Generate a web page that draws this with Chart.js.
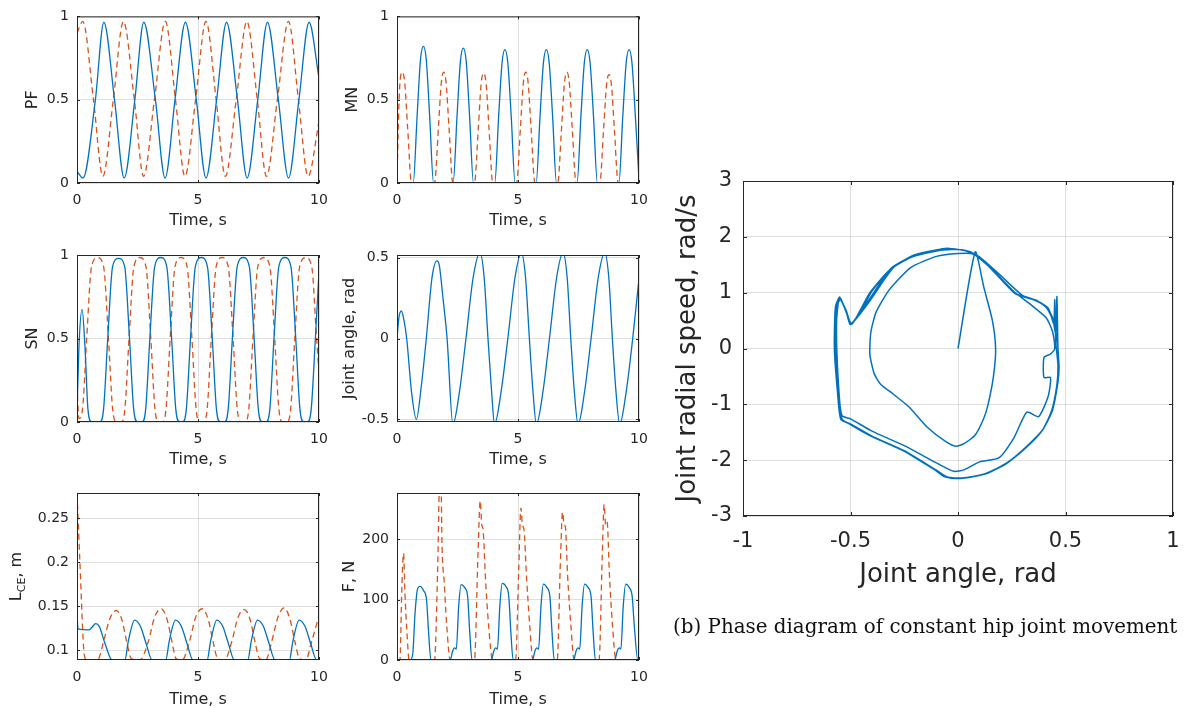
<!DOCTYPE html>
<html>
<head>
<meta charset="utf-8">
<script src="https://cdn.jsdelivr.net/npm/chart.js@4.4.0/dist/chart.umd.min.js"></script>
<style>
  html, body { margin: 0; padding: 0; background: #fff; }
  #wrap { position: relative; width: 1202px; height: 708px; overflow: hidden; background: #fff; }
  #wrap canvas { position: absolute; left: 0; top: 0; }
  #caption { position: absolute; left: 673px; top: 615px; font-family: "DejaVu Serif", serif; font-size: 20px; color: #111; white-space: nowrap; }
</style>
</head>
<body>
<div id="wrap">
  <canvas id="pf" width="1202" height="708"></canvas>
  <canvas id="mn" width="1202" height="708"></canvas>
  <canvas id="sn" width="1202" height="708"></canvas>
  <canvas id="angle" width="1202" height="708"></canvas>
  <canvas id="lce" width="1202" height="708"></canvas>
  <canvas id="force" width="1202" height="708"></canvas>
  <canvas id="phase" width="1202" height="708"></canvas>
  <div id="caption">(b) Phase diagram of constant hip joint movement</div>
</div>
<script>
// tick values and labels
const timeTicks = [0, 5, 10];
const timeTickLabels = ['0', '5', '10'];
const unitTicks = [0, 0.5, 1];
const unitTickLabels = ['0', '0.5', '1'];
const angleTicks = [-0.5, 0, 0.5];
const angleTickLabels = ['-0.5', '0', '0.5'];
const lceTicks = [0.1, 0.15, 0.2, 0.25];
const lceTickLabels = ['0.1', '0.15', '0.2', '0.25'];
const forceTicks = [0, 100, 200];
const forceTickLabels = ['0', '100', '200'];
const phaseAngleTicks = [-1, -0.5, 0, 0.5, 1];
const phaseAngleLabels = ['-1', '-0.5', '0', '0.5', '1'];
const phaseSpeedTicks = [-3, -2, -1, 0, 1, 2, 3];
const phaseSpeedLabels = ['-3', '-2', '-1', '0', '1', '2', '3'];

// PF activity
const pfBlueT = [0, 0.25, 0.76, 1.11, 1.55, 1.95, 2.39, 2.76, 3.24, 3.64, 4.05, 4.48, 4.93, 5.33, 5.77, 6.18, 6.63, 7.03, 7.47, 7.87, 8.32, 8.74, 9.17, 9.59, 10];
const pfBlue = [0.07, 0.03, 0.5, 0.965, 0.5, 0.03, 0.5, 0.965, 0.5, 0.03, 0.5, 0.965, 0.5, 0.03, 0.5, 0.965, 0.5, 0.03, 0.5, 0.965, 0.5, 0.03, 0.5, 0.965, 0.63];
const pfOrangeT = [0, 0.24, 0.68, 1.07, 1.5, 1.92, 2.37, 2.75, 3.2, 3.65, 4.07, 4.46, 4.9, 5.33, 5.75, 6.13, 6.58, 7.02, 7.45, 7.83, 8.28, 8.74, 9.15, 9.55, 10];
const pfOrange = [0.9, 0.97, 0.5, 0.04, 0.5, 0.97, 0.5, 0.04, 0.5, 0.97, 0.5, 0.04, 0.5, 0.97, 0.5, 0.04, 0.5, 0.97, 0.5, 0.04, 0.5, 0.97, 0.5, 0.04, 0.37];

// MN activity
const mnBlueT = [0, 0.67, 0.83, 0.97, 1.09, 1.21, 1.35, 1.51, 2.32, 2.48, 2.62, 2.74, 2.86, 3.0, 3.16, 4.04, 4.2, 4.34, 4.46, 4.58, 4.72, 4.88, 5.75, 5.91, 6.05, 6.17, 6.29, 6.43, 6.59, 7.44, 7.6, 7.74, 7.86, 7.98, 8.12, 8.28, 9.17, 9.33, 9.47, 9.59, 9.71, 9.85, 10];
const mnBlue = [0, 0, 0.4, 0.74, 0.82, 0.74, 0.4, 0, 0, 0.4, 0.73, 0.81, 0.73, 0.4, 0, 0, 0.4, 0.72, 0.8, 0.72, 0.4, 0, 0, 0.4, 0.72, 0.8, 0.72, 0.4, 0, 0, 0.4, 0.72, 0.8, 0.72, 0.4, 0, 0, 0.4, 0.72, 0.8, 0.72, 0.4, 0.02];
const mnOrangeT = [0, 0.1, 0.22, 0.32, 0.44, 0.6, 1.55, 1.71, 1.83, 1.93, 2.03, 2.15, 2.31, 3.2, 3.36, 3.48, 3.58, 3.68, 3.8, 3.96, 4.94, 5.1, 5.22, 5.32, 5.42, 5.54, 5.7, 6.64, 6.8, 6.92, 7.02, 7.12, 7.24, 7.4, 8.38, 8.54, 8.66, 8.76, 8.86, 8.98, 9.14, 10];
const mnOrange = [0.02, 0.55, 0.665, 0.6, 0.33, 0, 0, 0.33, 0.6, 0.665, 0.6, 0.33, 0, 0, 0.33, 0.6, 0.66, 0.6, 0.33, 0, 0, 0.33, 0.6, 0.665, 0.6, 0.33, 0, 0, 0.33, 0.6, 0.665, 0.6, 0.33, 0, 0, 0.33, 0.59, 0.65, 0.59, 0.33, 0, 0];

// SN activity
const snBlueT = [0, 0.08, 0.21, 0.33, 0.45, 0.6, 0.95, 1.1, 1.27, 1.47, 1.72, 1.97, 2.17, 2.34, 2.5, 2.69, 2.84, 3.01, 3.21, 3.46, 3.71, 3.91, 4.08, 4.24, 4.37, 4.52, 4.69, 4.89, 5.14, 5.39, 5.59, 5.76, 5.92, 6.1, 6.25, 6.42, 6.62, 6.87, 7.12, 7.32, 7.49, 7.65, 7.82, 7.97, 8.14, 8.34, 8.59, 8.84, 9.04, 9.21, 9.37, 9.53, 9.68, 9.85, 10];
const snBlue = [0.05, 0.45, 0.675, 0.45, 0.08, 0, 0, 0.08, 0.5, 0.93, 0.98, 0.93, 0.5, 0.08, 0, 0, 0.08, 0.5, 0.93, 0.985, 0.93, 0.5, 0.08, 0, 0, 0.08, 0.5, 0.93, 0.985, 0.93, 0.5, 0.08, 0, 0, 0.08, 0.5, 0.93, 0.985, 0.93, 0.5, 0.08, 0, 0, 0.08, 0.5, 0.93, 0.985, 0.93, 0.5, 0.08, 0, 0, 0.08, 0.5, 0.9];
const snOrangeT = [0, 0.08, 0.23, 0.4, 0.6, 0.85, 1.1, 1.3, 1.47, 1.63, 1.83, 1.98, 2.15, 2.35, 2.6, 2.85, 3.05, 3.22, 3.38, 3.53, 3.68, 3.85, 4.05, 4.3, 4.55, 4.75, 4.92, 5.08, 5.23, 5.38, 5.55, 5.75, 6.0, 6.25, 6.45, 6.62, 6.78, 6.95, 7.1, 7.27, 7.47, 7.72, 7.97, 8.17, 8.34, 8.5, 8.68, 8.83, 9.0, 9.2, 9.45, 9.7, 9.9, 10];
const snOrange = [0.22, 0.02, 0.08, 0.5, 0.93, 0.985, 0.93, 0.5, 0.08, 0, 0, 0.08, 0.5, 0.93, 0.985, 0.93, 0.5, 0.08, 0, 0, 0.08, 0.5, 0.93, 0.985, 0.93, 0.5, 0.08, 0, 0, 0.08, 0.5, 0.93, 0.985, 0.93, 0.5, 0.08, 0, 0, 0.08, 0.5, 0.93, 0.985, 0.93, 0.5, 0.08, 0, 0, 0.08, 0.5, 0.93, 0.985, 0.93, 0.5, 0.3];

// joint angle
const angleT = [0, 0.08, 0.18, 0.28, 0.4, 0.6, 0.8, 1.0, 1.21, 1.45, 1.65, 1.75, 1.9, 2.07, 2.31, 2.58, 2.85, 3.15, 3.43, 3.6, 3.76, 3.91, 4.03, 4.3, 4.58, 4.88, 5.14, 5.31, 5.47, 5.62, 5.76, 6.03, 6.3, 6.6, 6.86, 7.03, 7.18, 7.33, 7.48, 7.75, 8.02, 8.32, 8.58, 8.75, 8.9, 9.05, 9.2, 9.47, 9.74, 10];
const angleV = [0, 0.13, 0.17, 0.12, 0.0, -0.33, -0.5, -0.3, 0.0, 0.38, 0.48, 0.45, 0.25, 0.0, -0.53, -0.33, 0.0, 0.38, 0.53, 0.38, 0.0, -0.33, -0.53, -0.33, 0.0, 0.38, 0.53, 0.38, 0.0, -0.33, -0.53, -0.33, 0.0, 0.38, 0.53, 0.38, 0.0, -0.33, -0.53, -0.33, 0.0, 0.38, 0.53, 0.38, 0.0, -0.33, -0.53, -0.33, 0.0, 0.37];

// contractile element length
const lceBlueT = [0, 0.04, 0.5, 0.62, 0.77, 0.92, 1.15, 1.45, 1.98, 2.12, 2.38, 2.62, 2.85, 3.1, 3.67, 3.81, 4.07, 4.31, 4.54, 4.79, 5.38, 5.52, 5.78, 6.02, 6.25, 6.5, 7.06, 7.2, 7.46, 7.7, 7.93, 8.18, 8.78, 8.92, 9.18, 9.42, 9.65, 9.9, 10];
const lceBlue = [0.143, 0.124, 0.123, 0.126, 0.13, 0.127, 0.108, 0.0888, 0.0888, 0.11, 0.134, 0.127, 0.108, 0.0888, 0.0888, 0.11, 0.134, 0.127, 0.108, 0.0888, 0.0888, 0.11, 0.134, 0.127, 0.108, 0.0888, 0.0888, 0.11, 0.134, 0.127, 0.108, 0.0888, 0.0888, 0.11, 0.134, 0.127, 0.108, 0.0888, 0.0888];
const lceOrangeT = [0, 0.12, 0.3, 0.4, 0.85, 1.1, 1.35, 1.62, 1.85, 2.05, 2.25, 2.6, 2.95, 3.2, 3.48, 3.72, 3.92, 4.1, 4.35, 4.65, 4.9, 5.17, 5.42, 5.62, 5.82, 6.1, 6.4, 6.65, 6.91, 7.15, 7.35, 7.55, 7.8, 8.05, 8.3, 8.56, 8.8, 9.0, 9.2, 9.45, 9.7, 10];
const lceOrange = [0.278, 0.2, 0.095, 0.0888, 0.0888, 0.11, 0.135, 0.145, 0.135, 0.11, 0.09, 0.0888, 0.11, 0.137, 0.147, 0.135, 0.11, 0.09, 0.0888, 0.11, 0.137, 0.147, 0.135, 0.11, 0.09, 0.0888, 0.11, 0.137, 0.146, 0.135, 0.11, 0.09, 0.0888, 0.11, 0.137, 0.148, 0.135, 0.11, 0.09, 0.0888, 0.11, 0.139];

// muscle force
const fBlueT = [0, 0.55, 0.65, 0.75, 0.85, 0.95, 1.1, 1.22, 1.3, 1.4, 2.2, 2.3, 2.38, 2.45, 2.55, 2.65, 2.8, 2.92, 3.0, 3.1, 3.9, 4.0, 4.08, 4.15, 4.25, 4.35, 4.5, 4.62, 4.7, 4.8, 5.6, 5.7, 5.78, 5.85, 5.95, 6.05, 6.2, 6.32, 6.4, 6.5, 7.3, 7.4, 7.48, 7.55, 7.65, 7.75, 7.9, 8.02, 8.1, 8.2, 9.0, 9.1, 9.18, 9.25, 9.35, 9.45, 9.6, 9.72, 9.8, 9.95, 10];
const fBlue = [0, 0, 10, 80, 118, 122, 115, 100, 50, 0, 0, 15, 20, 18, 90, 125, 120, 105, 50, 0, 0, 15, 20, 18, 90, 127, 122, 105, 50, 0, 0, 15, 20, 18, 90, 126, 120, 105, 50, 0, 0, 15, 20, 18, 90, 126, 120, 105, 50, 0, 0, 15, 20, 18, 90, 126, 120, 105, 60, 0, 0];
const fOrangeT = [0, 0.12, 0.2, 0.27, 0.33, 0.42, 0.5, 1.55, 1.68, 1.76, 1.82, 1.86, 1.95, 2.05, 2.2, 3.2, 3.35, 3.44, 3.5, 3.56, 3.65, 3.78, 3.95, 4.9, 5.03, 5.12, 5.18, 5.25, 5.35, 5.48, 5.62, 6.62, 6.75, 6.84, 6.9, 6.96, 7.05, 7.18, 7.32, 8.35, 8.48, 8.56, 8.62, 8.68, 8.78, 8.9, 9.05, 10];
const fOrange = [0, 0, 120, 177, 110, 40, 0, 0, 150, 290, 290, 190, 130, 60, 0, 0, 180, 264, 225, 215, 140, 60, 0, 0, 150, 252, 225, 215, 140, 60, 0, 0, 160, 245, 225, 220, 140, 60, 0, 0, 170, 258, 225, 230, 140, 60, 0, 0];

// phase path [angle, speed]
const phaseStart = [[0, 0], [0.08, 1.73], [0.12, 1.1], [0.16, 0.5], [0.175, 0], [0.165, -0.5], [0.14, -1.0], [0.12, -1.25], [0.08, -1.55], [0.03, -1.7], [-0.01, -1.75], [-0.06, -1.66], [-0.14, -1.42], [-0.23, -1.04], [-0.3, -0.82], [-0.36, -0.64], [-0.39, -0.45], [-0.41, -0.1], [-0.405, 0.3], [-0.38, 0.66], [-0.32, 1.05], [-0.22, 1.45], [-0.1, 1.65], [0, 1.7], [0.07, 1.69]];
const phaseLoop1 = [[0.15, 1.45], [0.26, 1.02], [0.34, 0.78], [0.41, 0.55], [0.44, 0.3], [0.45, 0.0], [0.43, -0.1], [0.40, -0.16], [0.40, -0.52], [0.43, -0.52], [0.42, -0.85], [0.375, -1.22], [0.32, -1.14], [0.26, -1.6], [0.19, -1.96], [0.1, -2.03], [0.03, -2.17], [-0.02, -2.2], [-0.1, -2.05], [-0.25, -1.74], [-0.4, -1.48], [-0.5, -1.26], [-0.54, -1.2], [-0.56, -0.63], [-0.57, 0.08], [-0.56, 0.72], [-0.55, 0.9], [-0.52, 0.68], [-0.495, 0.43], [-0.45, 0.72], [-0.41, 1.0], [-0.32, 1.4], [-0.22, 1.63], [-0.08, 1.76], [0.02, 1.77], [0.08, 1.67]];
const phaseLoop2 = [[0.17, 1.37], [0.26, 1.0], [0.3, 0.93], [0.36, 0.87], [0.41, 0.75], [0.44, 0.55], [0.455, 0.25], [0.46, 0.93], [0.465, 0.0], [0.47, -0.34], [0.465, -0.6], [0.44, -1.1], [0.395, -1.45], [0.32, -1.75], [0.23, -2.04], [0.13, -2.24], [0.02, -2.32], [-0.05, -2.3], [-0.1, -2.18], [-0.25, -1.83], [-0.4, -1.57], [-0.5, -1.35], [-0.545, -1.27], [-0.56, -0.8], [-0.575, 0.0], [-0.57, 0.75], [-0.55, 0.92], [-0.52, 0.66], [-0.5, 0.43], [-0.44, 0.75], [-0.4, 1.03], [-0.31, 1.43], [-0.21, 1.66], [-0.07, 1.78], [0.03, 1.76], [0.09, 1.66]];
const phaseLoop3 = [[0.18, 1.33], [0.27, 0.98], [0.36, 0.86], [0.42, 0.72], [0.445, 0.45], [0.45, 0.87], [0.455, 0.1], [0.465, -0.3], [0.46, -0.65], [0.435, -1.12], [0.39, -1.48], [0.31, -1.8], [0.22, -2.07], [0.12, -2.25], [0.0, -2.33], [-0.06, -2.3], [-0.11, -2.17], [-0.26, -1.82], [-0.41, -1.56], [-0.51, -1.34], [-0.54, -1.26], [-0.555, -0.7], [-0.565, 0.2], [-0.56, 0.8], [-0.545, 0.88], [-0.515, 0.6], [-0.495, 0.45], [-0.42, 0.8], [-0.3, 1.45], [-0.2, 1.68], [-0.05, 1.79], [0.05, 1.74], [0.1, 1.64]];
const phaseLoop4 = [[0.17, 1.36], [0.26, 1.0], [0.31, 0.92], [0.36, 0.87], [0.41, 0.74], [0.44, 0.52], [0.46, 0.2], [0.468, -0.3], [0.462, -0.62], [0.438, -1.1], [0.392, -1.47], [0.315, -1.77], [0.225, -2.06], [0.125, -2.25], [0.01, -2.33], [-0.055, -2.3], [-0.105, -2.17], [-0.255, -1.83], [-0.405, -1.57], [-0.505, -1.35], [-0.545, -1.26], [-0.56, -0.75], [-0.57, 0.1], [-0.565, 0.78], [-0.55, 0.9], [-0.518, 0.64], [-0.497, 0.44], [-0.43, 0.78], [-0.31, 1.44], [-0.2, 1.67], [-0.06, 1.79], [0.04, 1.75], [0.1, 1.64], [0.2, 1.3], [0.3, 0.95], [0.37, 0.86]];

const BLUE = '#0072BD';
const ORANGE = '#D95319';
const INK = '#262626';
const GRID = 'rgba(38,38,38,0.15)';
const FONT = '"DejaVu Sans", sans-serif';

// axes box + inward tick marks, like matlab's "box on"
const boxPlugin = {
  id: 'box',
  afterDatasetsDraw(chart, args, opts) {
    const { ctx, chartArea: a, scales } = chart;
    const tl = opts.tickLen || 3;
    ctx.save();
    ctx.strokeStyle = INK;
    ctx.lineWidth = 1;
    ctx.beginPath();
    scales.x.ticks.forEach(t => {
      const px = Math.round(scales.x.getPixelForValue(t.value)) + 0.5;
      ctx.moveTo(px, a.bottom); ctx.lineTo(px, a.bottom - tl);
      ctx.moveTo(px, a.top); ctx.lineTo(px, a.top + tl);
    });
    scales.y.ticks.forEach(t => {
      const py = Math.round(scales.y.getPixelForValue(t.value)) + 0.5;
      ctx.moveTo(a.left, py); ctx.lineTo(a.left + tl, py);
      ctx.moveTo(a.right, py); ctx.lineTo(a.right - tl, py);
    });
    ctx.stroke();
    ctx.strokeRect(a.left + 0.5, a.top + 0.5, a.right - a.left - 1, a.bottom - a.top - 1);
    ctx.restore();
  }
};

// y label with subscript for the L_CE panel
const lceTitlePlugin = {
  id: 'lceTitle',
  afterDraw(chart) {
    const { ctx, chartArea: a } = chart;
    ctx.save();
    ctx.translate(21, (a.top + a.bottom) / 2);
    ctx.rotate(-Math.PI / 2);
    ctx.fillStyle = INK;
    ctx.textBaseline = 'alphabetic';
    const big = '16px ' + FONT, small = '11px ' + FONT;
    ctx.font = big;
    const wL = ctx.measureText('L').width, wR = ctx.measureText(', m').width;
    ctx.font = small;
    const wS = ctx.measureText('CE').width;
    let x = -(wL + wS + wR) / 2;
    ctx.font = big; ctx.fillText('L', x, 0); x += wL;
    ctx.font = small; ctx.fillText('CE', x, 4); x += wS;
    ctx.font = big; ctx.fillText(', m', x, 0);
    ctx.restore();
  }
};

function panel(id, o) {
  const yLeft = o.yTitleX - o.labelSize / 2;
  const xBottom = o.xTitleY + o.labelSize / 2;
  const tickFont = { family: FONT, size: o.tickSize };
  const titleFont = { family: FONT, size: o.labelSize, lineHeight: 1 };
  const datasets = o.series.map(s => ({
    data: s.t.map((t, i) => ({ x: t, y: s.v[i] })),
    borderColor: s.color,
    borderWidth: o.lineWidth,
    borderDash: s.dash ? [6, 4] : [],
    pointRadius: 0,
    fill: false,
    cubicInterpolationMode: o.tension ? 'default' : 'monotone',
    tension: o.tension || 0,
    clip: 0
  }));
  return new Chart(document.getElementById(id), {
    type: 'line',
    data: { datasets },
    options: {
      responsive: false,
      animation: false,
      events: [],
      layout: { padding: { left: yLeft, top: o.top, right: 1202 - o.right, bottom: 708 - xBottom } },
      plugins: { legend: { display: false }, tooltip: { enabled: false }, box: { tickLen: o.tickLen } },
      scales: {
        x: {
          type: 'linear', min: o.xMin, max: o.xMax,
          afterBuildTicks: s => { s.ticks = o.xTicks.map(v => ({ value: v })); },
          afterFit: s => { s.height = xBottom - o.bottom; },
          ticks: { callback: (v, i) => o.xLabels[i], font: tickFont, color: INK, padding: o.xPad, maxRotation: 0, autoSkip: false },
          grid: { color: GRID, drawTicks: false },
          border: { display: false },
          title: { display: true, text: o.xTitle, font: titleFont, color: INK, padding: 0 }
        },
        y: {
          type: 'linear', min: o.yMin, max: o.yMax,
          afterBuildTicks: s => { s.ticks = o.yTicks.map(v => ({ value: v })); },
          afterFit: s => { s.width = o.left - yLeft; },
          ticks: { callback: (v, i) => o.yLabels[i], font: tickFont, color: INK, padding: o.yPad, autoSkip: false },
          grid: { color: GRID, drawTicks: false },
          border: { display: false },
          title: { display: !!o.yTitle, text: o.yTitle, font: titleFont, color: INK, padding: 0 }
        }
      }
    },
    plugins: [boxPlugin].concat(o.extra || [])
  });
}

const small = { tickSize: 14, labelSize: 16, lineWidth: 1.3, tickLen: 3, xPad: 9, yPad: 8, xMin: 0, xMax: 10, xTicks: timeTicks, xLabels: timeTickLabels, xTitle: 'Time, s' };
const colL = { left: 77, right: 319 };
const colR = { left: 397, right: 639 };
const row1 = { top: 16, bottom: 183, xTitleY: 220.5 };
const row2 = { top: 255, bottom: 422, xTitleY: 460 };
const row3 = { top: 493, bottom: 660, xTitleY: 699.5 };

panel('pf', Object.assign({}, small, colL, row1, {
  yTitleX: 32.8, yTitle: 'PF', yMin: 0, yMax: 1, yTicks: unitTicks, yLabels: unitTickLabels,
  series: [{ t: pfBlueT, v: pfBlue, color: BLUE }, { t: pfOrangeT, v: pfOrange, color: ORANGE, dash: true }]
}));
panel('mn', Object.assign({}, small, colR, row1, {
  yTitleX: 352.8, yTitle: 'MN', yMin: 0, yMax: 1, yTicks: unitTicks, yLabels: unitTickLabels,
  series: [{ t: mnBlueT, v: mnBlue, color: BLUE }, { t: mnOrangeT, v: mnOrange, color: ORANGE, dash: true }]
}));
panel('sn', Object.assign({}, small, colL, row2, {
  yTitleX: 32.8, yTitle: 'SN', yMin: 0, yMax: 1, yTicks: unitTicks, yLabels: unitTickLabels,
  series: [{ t: snBlueT, v: snBlue, color: BLUE }, { t: snOrangeT, v: snOrange, color: ORANGE, dash: true }]
}));
panel('angle', Object.assign({}, small, colR, row2, {
  yTitleX: 349.5, yTitle: 'Joint angle, rad', yMin: -0.516, yMax: 0.516, yTicks: angleTicks, yLabels: angleTickLabels,
  series: [{ t: angleT, v: angleV, color: BLUE }]
}));
panel('lce', Object.assign({}, small, colL, row3, {
  yTitleX: 15, yTitle: '', yMin: 0.0887, yMax: 0.2786, yTicks: lceTicks, yLabels: lceTickLabels,
  series: [{ t: lceBlueT, v: lceBlue, color: BLUE }, { t: lceOrangeT, v: lceOrange, color: ORANGE, dash: true }],
  extra: [lceTitlePlugin]
}));
panel('force', Object.assign({}, small, colR, row3, {
  yTitleX: 349.5, yTitle: 'F, N', yMin: 0, yMax: 277, yTicks: forceTicks, yLabels: forceTickLabels,
  series: [{ t: fBlueT, v: fBlue, color: BLUE }, { t: fOrangeT, v: fOrange, color: ORANGE, dash: true }]
}));

const phasePath = phaseStart.concat(phaseLoop1, phaseLoop2, phaseLoop3, phaseLoop4);
panel('phase', {
  tickSize: 21, labelSize: 26, lineWidth: 1.5, tickLen: 4, xPad: 13, yPad: 11, tension: 0.2,
  left: 743, right: 1173, top: 181, bottom: 516, xTitleY: 575.5, yTitleX: 688,
  xMin: -1, xMax: 1, xTicks: phaseAngleTicks, xLabels: phaseAngleLabels, xTitle: 'Joint angle, rad',
  yMin: -3, yMax: 3, yTicks: phaseSpeedTicks, yLabels: phaseSpeedLabels, yTitle: 'Joint radial speed, rad/s',
  series: [{ t: phasePath.map(p => p[0]), v: phasePath.map(p => p[1]), color: BLUE }]
});

// fit the caption to the width it has in the reference
const cap = document.getElementById('caption');
cap.style.fontSize = (20 * 505 / cap.offsetWidth).toFixed(2) + 'px';
</script>
</body>
</html>
